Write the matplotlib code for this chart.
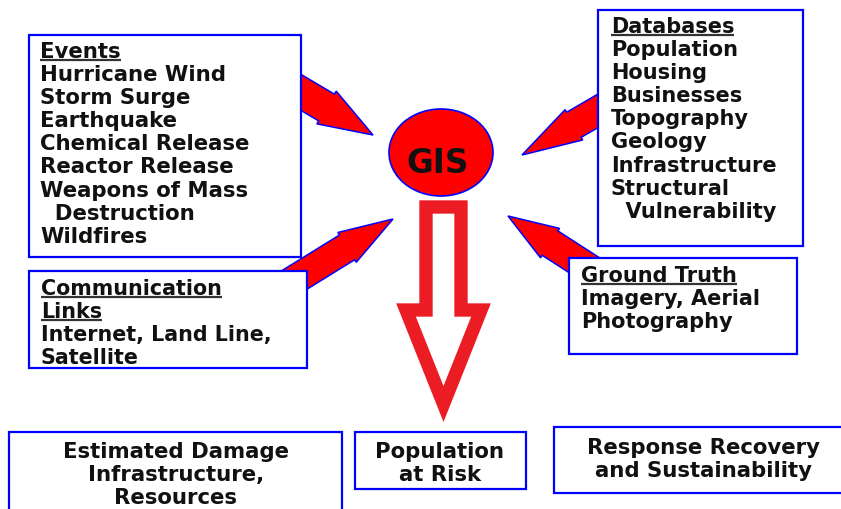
"""GIS emergency-management flow diagram: input boxes feeding a GIS hub,
with the hub pointing down to the output boxes."""

import matplotlib

matplotlib.use("Agg")
import matplotlib.pyplot as plt
import numpy as np
from matplotlib.patches import Ellipse, Polygon, Rectangle

# --- content -------------------------------------------------------------
EVENTS_TITLE = ["Events"]
EVENTS_ITEMS = ["Hurricane Wind", "Storm Surge", "Earthquake", "Chemical Release",
                "Reactor Release", "Weapons of Mass", "  Destruction", "Wildfires"]
DB_TITLE = ["Databases"]
DB_ITEMS = ["Population", "Housing", "Businesses", "Topography", "Geology",
            "Infrastructure", "Structural", "  Vulnerability"]
COMM_TITLE = ["Communication", "Links"]
COMM_ITEMS = ["Internet, Land Line,", "Satellite"]
GT_TITLE = ["Ground Truth"]
GT_ITEMS = ["Imagery, Aerial", "Photography"]
OUTPUTS = [["Estimated Damage", "Infrastructure,", "Resources"],
           ["Population", "at Risk"],
           ["Response Recovery", "and Sustainability"]]
HUB_LABEL = "GIS"

# --- layout (pixel space, y downwards) ------------------------------------
W, H = 841, 510
BLUE = "#0000ff"
RED = "#ff0000"
HOLLOW_RED = "#ec1c24"
TXT = "#111111"
FONT = ["DejaVu Sans"]
FS = 15.3
LINE = 23.1

# left-aligned boxes: (x0, y0, x1, y1), text x, first baseline, font size
LIST_BOXES = [
    (EVENTS_TITLE, EVENTS_ITEMS, (29, 36, 301, 258), 40, 58, FS),
    (DB_TITLE, DB_ITEMS, (598, 11, 803, 247), 611, 33, 15.0),
    (COMM_TITLE, COMM_ITEMS, (29, 272, 307, 369), 41, 295, 14.9),
    (GT_TITLE, GT_ITEMS, (569, 259, 797, 355), 581, 282, 15.0),
]
# centred boxes: (x0, y0, x1, y1), text centre x, first baseline
OUT_BOXES = [((9, 433, 342, 515), 176, 458),
             ((355, 433, 526, 490), 440, 458),
             ((554, 428, 845, 494), 704, 454)]

# solid arrows: tail, tip, shaft half width, head half width, head length
ARROWS = [((280, 81), (373, 136), 15.5, 19, 54),
          ((620, 99), (522, 156), 14.5, 17.5, 60),
          ((270, 296), (393, 220), 14.5, 17.5, 54),
          ((615, 286), (508, 217), 14.5, 17.5, 50)]


def block_arrow(tail, tip, w, hw, hl):
    tail = np.asarray(tail, float)
    tip = np.asarray(tip, float)
    u = (tip - tail) / np.linalg.norm(tip - tail)
    n = np.array([-u[1], u[0]])
    neck = tip - u * hl
    return np.array([tail + n * w, neck + n * w, neck + n * hw, tip,
                     neck - n * hw, neck - n * w, tail - n * w])


def underline(ax, fig, txt, y):
    fig.canvas.draw()
    bb = txt.get_window_extent(renderer=fig.canvas.get_renderer())
    ax.plot([bb.x0, bb.x1], [y, y], color="#333333", lw=1.6,
            solid_capstyle="butt", zorder=6)


def main():
    fig = plt.figure(figsize=(W / 100, H / 100), dpi=100)
    ax = fig.add_axes([0, 0, 1, 1])
    ax.set_xlim(0, W)
    ax.set_ylim(H, 0)
    ax.axis("off")

    for tail, tip, w, hw, hl in ARROWS:
        ax.add_patch(Polygon(block_arrow(tail, tip, w, hw, hl), closed=True,
                             facecolor=RED, edgecolor=BLUE, lw=1.1, zorder=2))

    # hollow arrow from the hub down to the outputs
    cx = 443.5
    hollow = [(cx - 17.5, 208), (cx + 17.5, 208), (cx + 17.5, 311), (cx + 37.5, 311),
              (cx, 405), (cx - 37.5, 311), (cx - 17.5, 311)]
    ax.add_patch(Polygon(hollow, closed=True, facecolor="none", edgecolor=HOLLOW_RED,
                         lw=9.6, joinstyle="miter", zorder=3))

    ax.add_patch(Ellipse((441, 153.5), 104, 87, facecolor=RED, edgecolor=BLUE,
                         lw=1.2, zorder=4))
    ax.text(438, 163.5, HUB_LABEL, ha="center", va="center", fontsize=23.5,
            fontweight="bold", family=FONT, color=TXT, zorder=5)

    for title, items, (x0, y0, x1, y1), tx, base, fs in LIST_BOXES:
        ax.add_patch(Rectangle((x0, y0), x1 - x0, y1 - y0, facecolor="white",
                               edgecolor=BLUE, lw=1.6, zorder=4))
        y = base
        for line in title:
            t = ax.text(tx, y, line, ha="left", va="baseline", fontsize=fs,
                        fontweight="bold", family=FONT, color=TXT, zorder=5)
            underline(ax, fig, t, y + 3)
            y += LINE
        for line in items:
            ax.text(tx, y, line, ha="left", va="baseline", fontsize=fs,
                    fontweight="bold", family=FONT, color=TXT, zorder=5)
            y += LINE

    for lines, ((x0, y0, x1, y1), tx, base) in zip(OUTPUTS, OUT_BOXES):
        ax.add_patch(Rectangle((x0, y0), x1 - x0, y1 - y0, facecolor="white",
                               edgecolor=BLUE, lw=1.6, zorder=4))
        for i, line in enumerate(lines):
            ax.text(tx, base + i * LINE, line, ha="center", va="baseline",
                    fontsize=FS, fontweight="bold", family=FONT, color=TXT, zorder=5)

    fig.savefig("out.png", dpi=100, facecolor="white")
    plt.close(fig)


if __name__ == "__main__":
    main()
